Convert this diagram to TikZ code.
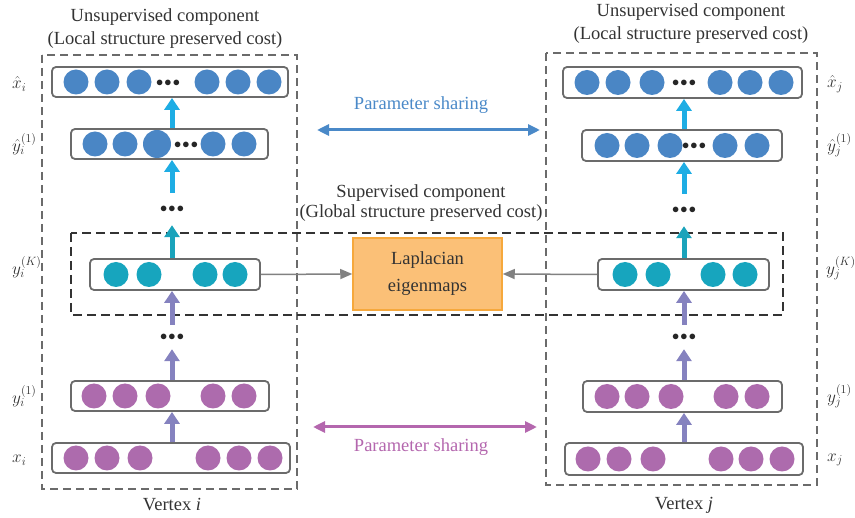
\documentclass[tikz,border=0pt]{standalone}
\usepackage{fontspec}
\setmainfont{Liberation Serif}
\usetikzlibrary{arrows.meta,positioning}
\definecolor{nblue}{HTML}{4A86C5}
\definecolor{nteal}{HTML}{17A5BE}
\definecolor{npurp}{HTML}{AD6BAD}
\definecolor{acyan}{HTML}{1EADE4}
\definecolor{ateal}{HTML}{1AA3BB}
\definecolor{alav}{HTML}{8582BF}
\definecolor{lapfill}{HTML}{FBC077}
\definecolor{lapdraw}{HTML}{F6A83C}
\definecolor{psblue}{HTML}{4A89C8}
\definecolor{pspurp}{HTML}{B467AE}
\definecolor{boxgray}{HTML}{6B6B6B}
\definecolor{txtgray}{HTML}{333333}
\newcommand{\tridots}{${\bullet}\mkern1.5mu{\bullet}\mkern1.5mu{\bullet}$}
\tikzset{
  layer/.style={draw=boxgray,fill=white,rounded corners=4pt,line width=1.8pt,inner sep=0pt},
  unit/.style={circle,inner sep=0pt,minimum size=25pt},
  bunit/.style={unit,fill=nblue},
  tunit/.style={unit,fill=nteal},
  punit/.style={unit,fill=npurp},
  dotsn/.style={inner sep=0pt,font=\fontsize{14}{14}\selectfont,text=black!85},
  lbl/.style={anchor=west,inner sep=0pt,font=\fontsize{18.5}{21}\selectfont,text=txtgray},
  title/.style={align=center,inner sep=0pt,font=\fontsize{18.5}{23}\selectfont,text=txtgray},
  lapbox/.style={draw=lapdraw,fill=lapfill,line width=1.5pt,align=center,inner sep=0pt,
    font=\fontsize{18.5}{27}\selectfont,text=txtgray},
  vdash/.style={draw=boxgray,line width=1.3pt,dash pattern=on 8pt off 5pt},
  sdash/.style={draw=txtgray,line width=1.8pt,dash pattern=on 9pt off 5pt},
  cedge/.style={-{Triangle[length=12pt,width=15pt]},line width=5pt,color=acyan},
  tedge/.style={-{Triangle[length=12pt,width=15pt]},line width=5pt,color=ateal},
  ledge/.style={-{Triangle[length=12pt,width=15pt]},line width=5pt,color=alav},
  gedge/.style={-{Triangle[length=12pt,width=10pt]},line width=1.5pt,color=boxgray!85},
  sedge/.style={{Triangle[length=12pt,width=11pt]}-{Triangle[length=12pt,width=11pt]},line width=3pt},
}
\begin{document}
\begin{tikzpicture}[x=1pt,y=-1pt]
  \useasboundingbox (0,0) rectangle (855,518);
  % dashed frames
  \draw[vdash] (42,55) rectangle (297,489);
  \draw[vdash] (546,53) rectangle (817,485);
  \draw[sdash] (71,233) rectangle (783,315);
  \node[title] (ti) at (165,28.5) {Unsupervised component\\(Local structure preserved cost)};
  \node[title] (tj) at (691,23.5) {Unsupervised component\\(Local structure preserved cost)};
  \node[title,font=\fontsize{18.5}{20}\selectfont] (ts) at (421,203) {Supervised component\\(Global structure preserved cost)};

  % vertex i
  \node[layer,minimum width=236pt,minimum height=30pt] (xhi) at (170,82){};
  \node[layer,minimum width=197pt,minimum height=30pt] (yhi) at (169.5,144){};
  \node[layer,minimum width=170pt,minimum height=31pt] (yKi) at (175,274.5){};
  \node[layer,minimum width=198pt,minimum height=30pt] (y1i) at (170,396){};
  \node[layer,minimum width=238pt,minimum height=30pt] (xi) at (171,458){};
  \node[bunit] (xhi1) at (76,82){}; \node[bunit] (xhi2) at (107,82){}; \node[bunit] (xhi3) at (139,82){};
  \node[dotsn] (xhid) at (168,83){\tridots};
  \node[bunit] (xhi4) at (207,82){}; \node[bunit] (xhi5) at (238,82){}; \node[bunit] (xhi6) at (269,82){};
  \node[bunit] (yhi1) at (95,144){}; \node[bunit] (yhi2) at (125,144){}; \node[bunit,minimum size=28pt] (yhi3) at (157,144){};
  \node[dotsn] (yhid) at (186,145){\tridots};
  \node[bunit] (yhi4) at (213,144){}; \node[bunit] (yhi5) at (244,144){};
  \node[tunit] (yKi1) at (116,274.5){}; \node[tunit] (yKi2) at (149,274.5){};
  \node[tunit] (yKi3) at (205,274.5){}; \node[tunit] (yKi4) at (235,274.5){};
  \node[punit] (y1i1) at (94,396){}; \node[punit] (y1i2) at (125,396){}; \node[punit] (y1i3) at (158,396){};
  \node[punit] (y1i4) at (213,396){}; \node[punit] (y1i5) at (244,396){};
  \node[punit] (xi1) at (76,458){}; \node[punit] (xi2) at (107,458){}; \node[punit] (xi3) at (140,458){};
  \node[punit] (xi4) at (208,458){}; \node[punit] (xi5) at (239,458){}; \node[punit] (xi6) at (270,458){};
  \node[dotsn,minimum height=32pt] (ui) at (172,209){\tridots};
  \node[dotsn,minimum height=24pt] (li) at (172,337){\tridots};
  \draw[cedge] (yhi.north -| ui) -- (xhi.south -| ui);
  \draw[cedge] (ui.north) -- (yhi.south -| ui);
  \draw[tedge] (yKi.north -| ui) -- (ui.south);
  \draw[ledge] (li.north) -- (yKi.south -| li);
  \draw[ledge] (y1i.north -| li) -- (li.south);
  \draw[ledge] (xi.north -| li) -- (y1i.south -| li);
  \node[lbl] (lxhi) at (12,84) {$\hat{x}_i$};
  \node[lbl] (lyhi) at (12,144) {$\hat{y}_i^{(1)}$};
  \node[lbl] (lyKi) at (12,267) {$y_i^{(K)}$};
  \node[lbl] (ly1i) at (12,396) {$y_i^{(1)}$};
  \node[lbl] (lxi) at (12,460) {$x_i$};
  \node[title] (vi) at (172,505) {Vertex \textit{i}};

  % vertex j
  \node[layer,minimum width=239pt,minimum height=31pt] (xhj) at (682.5,82.5){};
  \node[layer,minimum width=200pt,minimum height=31pt] (yhj) at (682,145.5){};
  \node[layer,minimum width=171pt,minimum height=31pt] (yKj) at (683.5,274.5){};
  \node[layer,minimum width=199pt,minimum height=31pt] (y1j) at (682.5,396.5){};
  \node[layer,minimum width=238pt,minimum height=32pt] (xj) at (684,459){};
  \node[bunit] (xhj1) at (587,82.5){}; \node[bunit] (xhj2) at (618,82.5){}; \node[bunit] (xhj3) at (652,82.5){};
  \node[dotsn] (xhjd) at (684,83.5){\tridots};
  \node[bunit] (xhj4) at (720,82.5){}; \node[bunit] (xhj5) at (750,82.5){}; \node[bunit] (xhj6) at (781,82.5){};
  \node[bunit] (yhj1) at (607,145.5){}; \node[bunit] (yhj2) at (637,145.5){}; \node[bunit] (yhj3) at (670,145.5){};
  \node[dotsn] (yhjd) at (694,146.5){\tridots};
  \node[bunit] (yhj4) at (725,145.5){}; \node[bunit] (yhj5) at (757,145.5){};
  \node[tunit] (yKj1) at (625,274.5){}; \node[tunit] (yKj2) at (658,274.5){};
  \node[tunit] (yKj3) at (713,274.5){}; \node[tunit] (yKj4) at (745,274.5){};
  \node[punit] (y1j1) at (607,396.5){}; \node[punit] (y1j2) at (637,396.5){}; \node[punit] (y1j3) at (671,396.5){};
  \node[punit] (y1j4) at (726,396.5){}; \node[punit] (y1j5) at (757,396.5){};
  \node[punit] (xj1) at (588,459){}; \node[punit] (xj2) at (619,459){}; \node[punit] (xj3) at (653,459){};
  \node[punit] (xj4) at (721,459){}; \node[punit] (xj5) at (751,459){}; \node[punit] (xj6) at (782,459){};
  \node[dotsn,minimum height=32pt] (uj) at (684,210){\tridots};
  \node[dotsn,minimum height=24pt] (lj) at (684,337){\tridots};
  \draw[cedge] (yhj.north -| uj) -- (xhj.south -| uj);
  \draw[cedge] (uj.north) -- (yhj.south -| uj);
  \draw[tedge] (yKj.north -| uj) -- (uj.south);
  \draw[ledge] (lj.north) -- (yKj.south -| lj);
  \draw[ledge] (y1j.north -| lj) -- (lj.south);
  \draw[ledge] (xj.north -| lj) -- (y1j.south -| lj);
  \node[lbl] (lxhj) at (827,84) {$\hat{x}_j$};
  \node[lbl] (lyhj) at (827,145) {$\hat{y}_j^{(1)}$};
  \node[lbl] (lyKj) at (826,268) {$y_j^{(K)}$};
  \node[lbl] (ly1j) at (827,396) {$y_j^{(1)}$};
  \node[lbl] (lxj) at (827,460) {$x_j$};
  \node[title] (vj) at (684,505) {Vertex \textit{j}};

  % supervised part
  \node[lapbox,minimum width=149pt,minimum height=72pt] (lap) at (427.5,274) {Laplacian\\eigenmaps};
  \draw[gedge] (yKi.east) -- (lap.west);
  \draw[gedge] (yKj.west) -- (lap.east);

  % parameter sharing
  \coordinate (psa) at (317,130); \coordinate (psb) at (540,130);
  \coordinate (psc) at (313,427); \coordinate (psd) at (537,427);
  \draw[sedge,color=psblue] (psa) -- (psb);
  \draw[sedge,color=pspurp] (psc) -- (psd);
  \node[title,text=psblue] (pst) at (421,105) {Parameter sharing};
  \node[title,text=pspurp] (psl) at (421,447) {Parameter sharing};
\end{tikzpicture}
\end{document}
